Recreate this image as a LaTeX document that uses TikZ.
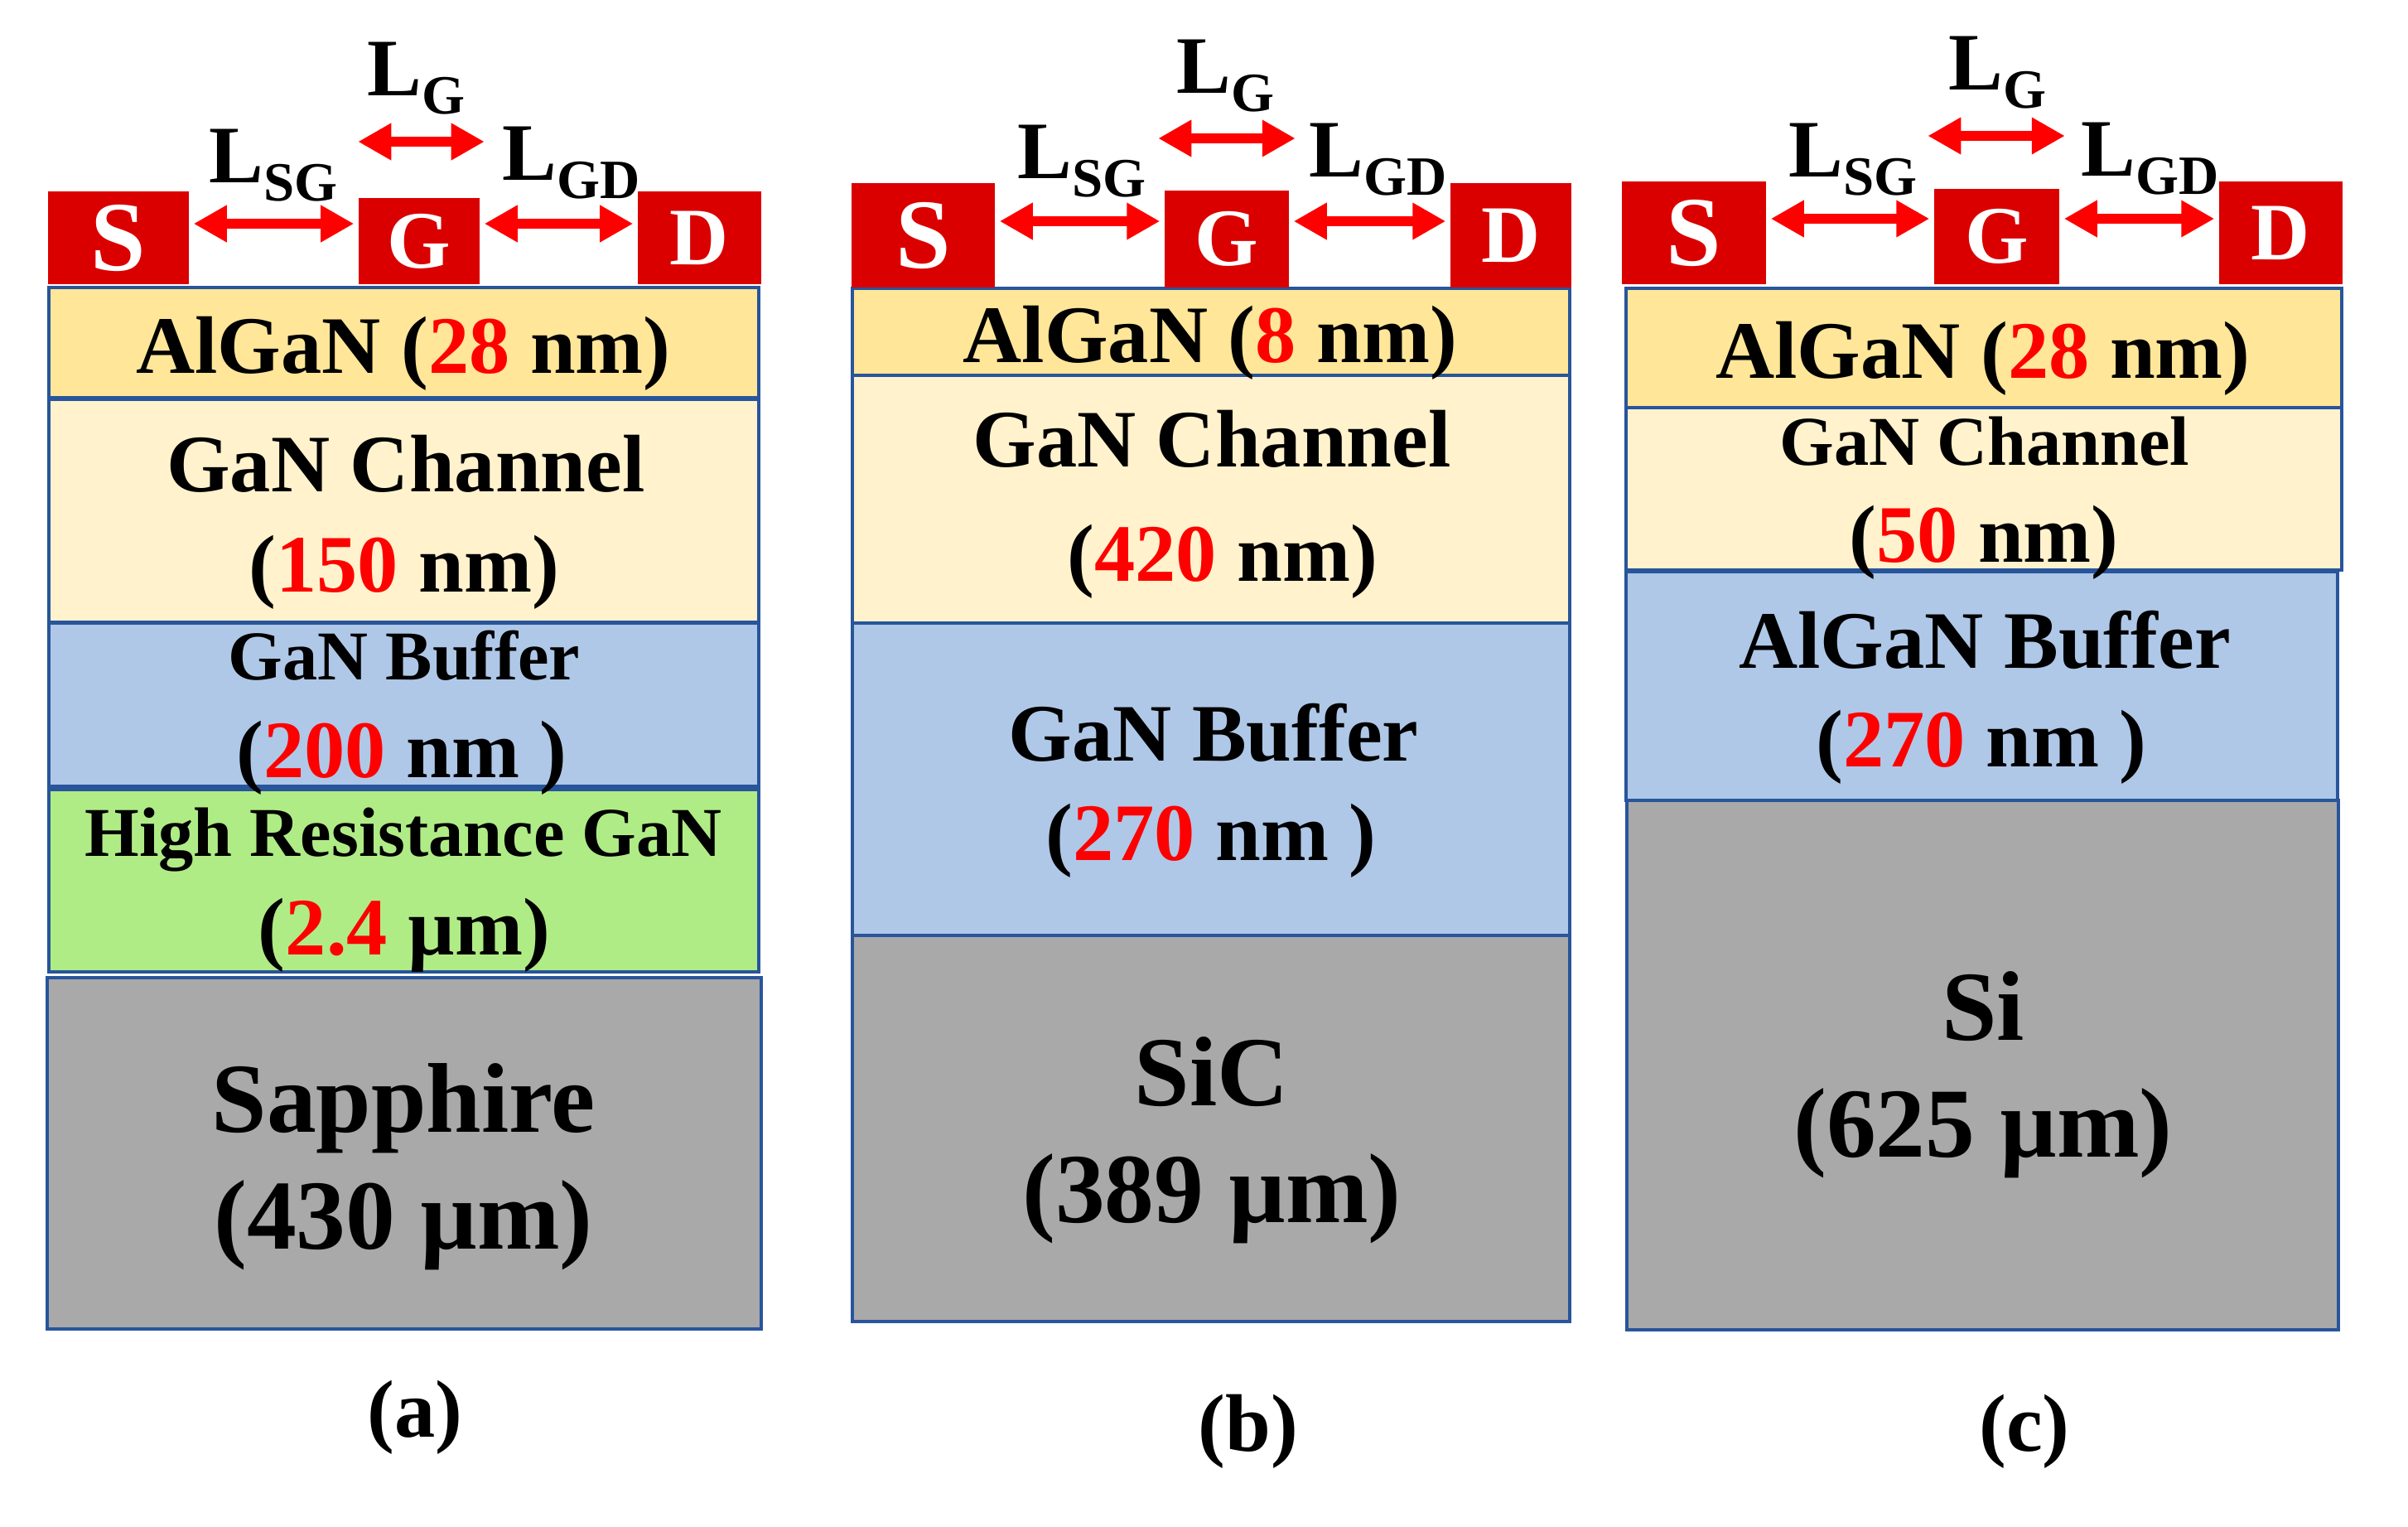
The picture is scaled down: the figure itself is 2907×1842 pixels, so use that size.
\documentclass[tikz,border=0pt]{standalone}
\usepackage{fontspec}
\setmainfont{Liberation Serif}
\usetikzlibrary{arrows.meta}
\definecolor{metalred}{RGB}{218,0,0}
\definecolor{arrred}{RGB}{255,0,0}
\definecolor{edgeblue}{RGB}{40,85,155}
\definecolor{algan}{HTML}{FFE699}
\definecolor{chan}{HTML}{FFF2CC}
\definecolor{buf}{HTML}{AFC8E8}
\definecolor{hres}{HTML}{B0EC86}
\definecolor{subs}{HTML}{A9A9A9}
\newcommand\rd[1]{\textcolor{arrred}{#1}}
\newcommand\lsub[1]{{\fontsize{19}{19}\selectfont\raisebox{-6.5pt}{#1}}}
\tikzset{
  metal/.style={fill=metalred, text=white, inner sep=0pt, font=\bfseries\fontsize{28}{30}\selectfont},
  layer/.style={draw=edgeblue, line width=1pt},
  lbl/.style={anchor=base, inner sep=0pt, font=\bfseries\fontsize{28}{30}\selectfont},
  lblsmall/.style={lbl, font=\bfseries\fontsize{24}{26}\selectfont},
  lblbig/.style={lbl, font=\bfseries\fontsize{34}{36}\selectfont},
  dimarr/.style={draw=arrred, line width=0.12cm,
    {Triangle[length=0.40cm,width=0.42cm]}-{Triangle[length=0.40cm,width=0.42cm]},
    shorten <=0.05cm, shorten >=0.05cm},
}
\begin{document}
\begin{tikzpicture}[x=0.01cm, y=-0.01cm]
\useasboundingbox (0,0) rectangle (2907,1842);

% (a) sapphire
\draw[layer, fill=algan] (59,347) rectangle (916,480);
\draw[layer, fill=chan] (59,482) rectangle (916,751);
\draw[layer, fill=buf] (59,752) rectangle (916,949);
\draw[layer, fill=hres] (59,953) rectangle (916,1173);
\draw[layer, fill=subs] (57,1180) rectangle (919,1604);
\node[metal, minimum width=1.70cm, minimum height=1.12cm, font=\bfseries\fontsize{34}{36}\selectfont] (aS) at (143,287) {S};
\node[metal, minimum width=1.46cm, minimum height=1.04cm] (aG) at (506,291) {G};
\node[metal, minimum width=1.49cm, minimum height=1.12cm] (aD) at (844.5,287) {D};
\draw[dimarr] (aS.east |- 0,270) -- (aG.west |- 0,270);
\draw[dimarr] (aG.east |- 0,270) -- (aD.west |- 0,270);
\draw[dimarr, shorten <=0cm, shorten >=-0.05cm] (aG.west |- 0,171) -- (aG.east |- 0,171);
\node[lbl, anchor=base west] (aLG) at (443,115) {L\lsub{G}};
\node[lbl, anchor=base west] (aLSG) at (252,220) {L\lsub{SG}};
\node[lbl, anchor=base west] (aLGD) at (606,217) {L\lsub{GD}};
\node[lbl] (aAlGaN) at (487,450) {AlGaN (\rd{28} nm)};
\node[lbl] (aChan) at (490,593) {GaN Channel};
\node[lbl] (aChanT) at (488,714) {(\rd{150} nm)};
\node[lblsmall] (aBuf) at (488,820) {GaN Buffer};
\node[lbl] (aBufT) at (485,938) {(\rd{200} nm )};
\node[lblsmall] (aHR) at (487,1033) {High Resistance GaN};
\node[lbl] (aHRT) at (488,1152) {(\rd{2.4} µm)};
\node[lblbig] (aSub) at (487,1366) {Sapphire};
\node[lblbig] (aSubT) at (487,1507) {(430 µm)};
\node[lbl] (aCap) at (501,1734) {(a)};

% (b) SiC
\draw[layer, fill=algan] (1029,348) rectangle (1895,453);
\draw[layer, fill=chan] (1029,453) rectangle (1895,752);
\draw[layer, fill=buf] (1029,752) rectangle (1895,1129);
\draw[layer, fill=subs] (1029,1129) rectangle (1895,1595);
\node[metal, minimum width=1.73cm, minimum height=1.26cm, font=\bfseries\fontsize{34}{36}\selectfont] (bS) at (1114.5,284) {S};
\node[metal, minimum width=1.50cm, minimum height=1.17cm] (bG) at (1481,288.5) {G};
\node[metal, minimum width=1.46cm, minimum height=1.26cm] (bD) at (1824,284) {D};
\draw[dimarr] (bS.east |- 0,267) -- (bG.west |- 0,267);
\draw[dimarr] (bG.east |- 0,267) -- (bD.west |- 0,267);
\draw[dimarr, shorten <=-0.07cm, shorten >=-0.07cm] (bG.west |- 0,167) -- (bG.east |- 0,167);
\node[lbl, anchor=base west] (bLG) at (1420,112) {L\lsub{G}};
\node[lbl, anchor=base west] (bLSG) at (1228,215) {L\lsub{SG}};
\node[lbl, anchor=base west] (bLGD) at (1580,213) {L\lsub{GD}};
\node[lbl] (bAlGaN) at (1461,437) {AlGaN (\rd{8} nm)};
\node[lbl] (bChan) at (1463,563) {GaN Channel};
\node[lbl] (bChanT) at (1476,701) {(\rd{420} nm)};
\node[lbl] (bBuf) at (1465,918) {GaN Buffer};
\node[lbl] (bBufT) at (1462,1038) {(\rd{270} nm )};
\node[lblbig] (bSub) at (1463,1334) {SiC};
\node[lblbig] (bSubT) at (1463,1475) {(389 µm)};
\node[lbl] (bCap) at (1507,1751) {(b)};

% (c) Si
\draw[layer, fill=algan] (1963,348) rectangle (2827,492);
\draw[layer, fill=chan] (1963,492) rectangle (2827,688);
\draw[layer, fill=buf] (1963,690) rectangle (2822,966);
\draw[layer, fill=subs] (1964,966) rectangle (2823,1605);
\node[metal, minimum width=1.74cm, minimum height=1.24cm, font=\bfseries\fontsize{34}{36}\selectfont] (cS) at (2045,281) {S};
\node[metal, minimum width=1.51cm, minimum height=1.15cm] (cG) at (2410.5,285.5) {G};
\node[metal, minimum width=1.49cm, minimum height=1.24cm] (cD) at (2753.5,281) {D};
\draw[dimarr] (cS.east |- 0,264) -- (cG.west |- 0,264);
\draw[dimarr] (cG.east |- 0,264) -- (cD.west |- 0,264);
\draw[dimarr, shorten <=-0.07cm, shorten >=-0.06cm] (cG.west |- 0,164) -- (cG.east |- 0,164);
\node[lbl, anchor=base west] (cLG) at (2352,108) {L\lsub{G}};
\node[lbl, anchor=base west] (cLSG) at (2159,213) {L\lsub{SG}};
\node[lbl, anchor=base west] (cLGD) at (2512,212) {L\lsub{GD}};
\node[lbl] (cAlGaN) at (2394,456) {AlGaN (\rd{28} nm)};
\node[lblsmall] (cChan) at (2396,561) {GaN Channel};
\node[lbl] (cChanT) at (2395,678) {(\rd{50} nm)};
\node[lbl] (cBuf) at (2396,806) {AlGaN Buffer};
\node[lbl] (cBufT) at (2392,925) {(\rd{270} nm )};
\node[lblbig] (cSub) at (2394,1255) {Si};
\node[lblbig] (cSubT) at (2394,1396) {(625 µm)};
\node[lbl] (cCap) at (2444,1751) {(c)};
\end{tikzpicture}
\end{document}
